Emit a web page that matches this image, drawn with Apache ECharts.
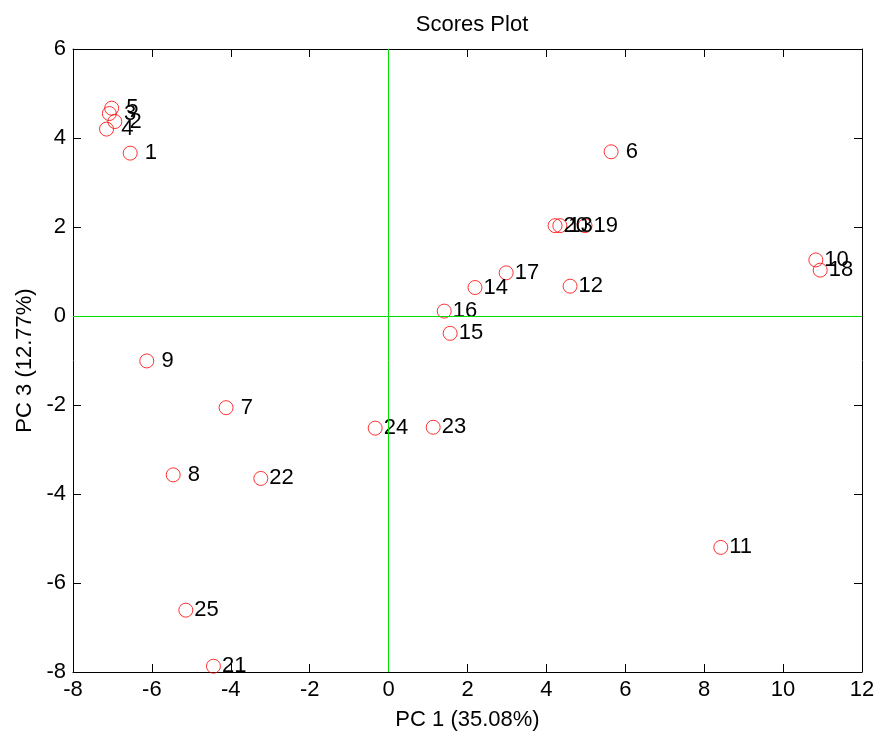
<!DOCTYPE html>
<html>
<head>
<meta charset="utf-8">
<script src="https://cdn.jsdelivr.net/npm/echarts@6/dist/echarts.min.js"></script>
<style>
html,body{margin:0;padding:0;background:#fff;}
#chart{width:881px;height:740px;}
</style>
</head>
<body>
<div id="chart"></div>
<script>
const sampleIds = ['1','2','3','4','5','6','7','8','9','10','11','12','13','14','15','16','17','18','19','20','21','22','23','24','25'];
const pc1Scores = [-6.55,-6.94,-7.08,-7.15,-7.02,5.64,-4.12,-5.46,-6.13,10.83,8.42,4.60,4.34,2.19,1.56,1.41,2.98,10.94,4.98,4.22,-4.44,-3.24,1.13,-0.34,-5.14];
const pc3Scores = [3.66,4.37,4.55,4.20,4.67,3.69,-2.06,-3.57,-1.01,1.26,-5.20,0.67,2.03,0.64,-0.39,0.11,0.97,1.03,2.03,2.03,-7.87,-3.65,-2.50,-2.52,-6.61];
const xTicks = {min:-8, max:12, interval:2};
const yTicks = {min:-8, max:6, interval:2};
const titleText = 'Scores Plot';
const xName = 'PC 1 (35.08%)';
const yName = 'PC 3 (12.77%)';

const FONT = 'Liberation Sans, Arial, sans-serif';
const FS = 22;
const points = sampleIds.map((id,i)=>[pc1Scores[i], pc3Scores[i], id]);

const chart = echarts.init(document.getElementById('chart'), null, {renderer:'canvas'});
const axisCommon = {
  axisLine:{show:true, onZero:false, lineStyle:{color:'#000', width:1}},
  axisTick:{show:true, inside:true, length:8, lineStyle:{color:'#000', width:1}},
  splitLine:{show:false}
};
chart.setOption({
  animation:false,
  backgroundColor:'#fff',
  title:{text:titleText, left:467, top:9, textAlign:'center',
    textStyle:{fontFamily:FONT, fontSize:FS, fontWeight:'normal', color:'#000'}},
  grid:{left:73, right:19, top:49, bottom:68, containLabel:false},
  xAxis:[
    Object.assign({type:'value', position:'bottom', min:xTicks.min, max:xTicks.max, interval:xTicks.interval,
      name:xName, nameLocation:'middle', nameGap:37,
      nameTextStyle:{fontFamily:FONT, fontSize:FS, color:'#000'},
      axisLabel:{show:true, margin:7, fontFamily:FONT, fontSize:FS, color:'#000'}}, axisCommon),
    Object.assign({type:'value', position:'top', min:xTicks.min, max:xTicks.max, interval:xTicks.interval,
      axisLabel:{show:false}}, axisCommon)
  ],
  yAxis:[
    Object.assign({type:'value', position:'left', min:yTicks.min, max:yTicks.max, interval:yTicks.interval,
      name:yName, nameLocation:'middle', nameGap:37,
      nameTextStyle:{fontFamily:FONT, fontSize:FS, color:'#000'},
      axisLabel:{show:true, margin:7, fontFamily:FONT, fontSize:FS, color:'#000'}}, axisCommon),
    Object.assign({type:'value', position:'right', min:yTicks.min, max:yTicks.max, interval:yTicks.interval,
      axisLabel:{show:false}}, axisCommon)
  ],
  series:[{
    type:'scatter',
    xAxisIndex:0, yAxisIndex:0,
    data:points,
    symbol:'circle',
    symbolSize:14,
    itemStyle:{color:'rgba(0,0,0,0)', borderColor:'#ff0000', borderWidth:1},
    emphasis:{disabled:true},
    label:{show:true, position:'right', distance:1,
      formatter:p=>(p.data[2].length<2?'\u00a0':'')+p.data[2],
      fontFamily:FONT, fontSize:FS, color:'#000000', opacity:1, textBorderWidth:0},
    markLine:{
      silent:true, symbol:['none','none'], animation:false,
      label:{show:false},
      lineStyle:{color:'#00e000', width:1, type:'solid', opacity:1},
      data:[{xAxis:0},{yAxis:0}]
    },
    z:3
  }]
});
</script>
</body>
</html>
